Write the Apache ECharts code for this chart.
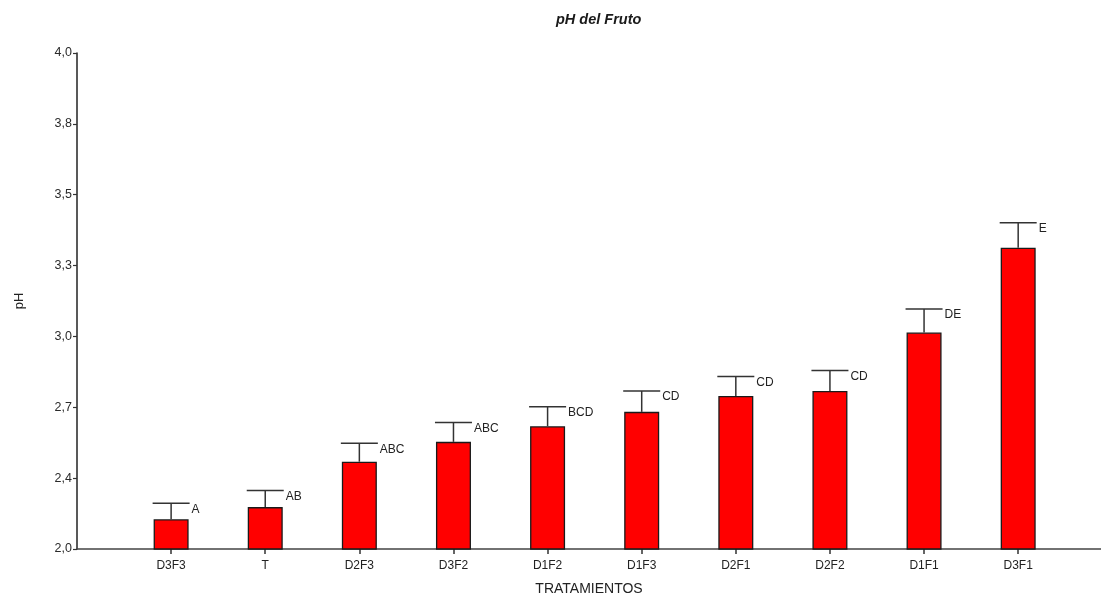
<!DOCTYPE html>
<html>
<head>
<meta charset="utf-8">
<title>pH del Fruto</title>
<script src="https://cdn.jsdelivr.net/npm/echarts@6/dist/echarts.min.js"></script>
<style>
  html, body { margin: 0; padding: 0; background: #ffffff; overflow: hidden; }
  #chart { width: 1101px; height: 601px; }
</style>
</head>
<body>
<div id="chart"></div>
<script>
// Treatments, ordered by mean fruit pH
const categories = ['D3F3', 'T', 'D2F3', 'D3F2', 'D1F2', 'D1F3', 'D2F1', 'D2F2', 'D1F1', 'D3F1'];
// Mean pH per treatment
const means = [2.120, 2.169, 2.352, 2.432, 2.495, 2.553, 2.617, 2.637, 2.873, 3.215];
// Upper error (standard error) per treatment
const errors = [0.064, 0.067, 0.074, 0.078, 0.079, 0.084, 0.079, 0.083, 0.095, 0.101];
// Letters of the means comparison test
const letters = ['A', 'AB', 'ABC', 'ABC', 'BCD', 'CD', 'CD', 'CD', 'DE', 'E'];
// Y axis tick positions and their printed labels
const yTickValues = [2, 2 + 2 / 7, 2 + 4 / 7, 2 + 6 / 7, 2 + 8 / 7, 2 + 10 / 7, 2 + 12 / 7, 4];
const yTickLabels = ['2,0', '2,4', '2,7', '3,0', '3,3', '3,5', '3,8', '4,0'];

const catIdx = categories.map((_, i) => i);
const FONT = 'Arial, "Liberation Sans", sans-serif';
const BAR_W = 35;

const chart = echarts.init(document.getElementById('chart'), null, { renderer: 'canvas', width: 1101, height: 601 });

chart.setOption({
  backgroundColor: '#ffffff',
  animation: false,
  title: {
    text: 'pH del Fruto',
    left: 551,
    top: 7,
    textStyle: { fontFamily: FONT, fontSize: 14.5, fontWeight: 'bold', fontStyle: 'italic', color: '#1a1a1a' }
  },
  grid: { left: 77, right: 0, top: 53, bottom: 48, containLabel: false },
  xAxis: {
    type: 'value',
    min: -1,
    max: 9.88,
    name: 'TRATAMIENTOS',
    nameLocation: 'middle',
    nameGap: 33,
    nameTextStyle: { fontFamily: FONT, fontSize: 14, color: '#222' },
    axisLine: { show: true, onZero: false, lineStyle: { color: '#444', width: 1.5 } },
    axisTick: { show: true, customValues: catIdx, length: 5, lineStyle: { color: '#333', width: 1.5 } },
    axisLabel: {
      customValues: catIdx,
      formatter: v => categories[Math.round(v)] || '',
      fontFamily: FONT, fontSize: 12, color: '#222', margin: 11
    },
    splitLine: { show: false }
  },
  yAxis: {
    type: 'value',
    min: 2,
    max: 4,
    name: 'pH',
    nameLocation: 'middle',
    nameGap: 51,
    nameRotate: 90,
    nameTextStyle: { fontFamily: FONT, fontSize: 13, color: '#222' },
    axisLine: { show: true, onZero: false, lineStyle: { color: '#222', width: 1.5 } },
    axisTick: { show: true, customValues: yTickValues, length: 4, lineStyle: { color: '#333', width: 1.2 } },
    axisLabel: {
      customValues: yTickValues,
      formatter: v => {
        const i = yTickValues.findIndex(t => Math.abs(t - v) < 1e-6);
        return i >= 0 ? yTickLabels[i] : '';
      },
      fontFamily: FONT, fontSize: 12.5, color: '#2a2a2a', margin: 5
    },
    splitLine: { show: false }
  },
  series: [
    {
      type: 'bar',
      data: means.map((m, i) => [i, m]),
      barWidth: BAR_W,
      itemStyle: { color: '#ff0000', borderColor: '#1a1a1a', borderWidth: 1.3 }
    },
    {
      type: 'custom',
      data: means.map((m, i) => [i, m, m + errors[i], letters[i]]),
      z: 5,
      renderItem: (params, api) => {
        const x = api.value(0);
        const top = api.coord([x, api.value(1)]);
        const cap = api.coord([x, api.value(2)]);
        const half = BAR_W / 2 + 1;
        const stroke = { stroke: '#333', lineWidth: 1.5 };
        return {
          type: 'group',
          children: [
            { type: 'line', shape: { x1: top[0], y1: top[1], x2: cap[0], y2: cap[1] }, style: stroke },
            { type: 'line', shape: { x1: cap[0] - half, y1: cap[1], x2: cap[0] + half, y2: cap[1] }, style: stroke },
            {
              type: 'text',
              x: cap[0] + half + 2,
              y: cap[1] + 6,
              style: {
                text: api.value(3),
                fill: '#222',
                font: '12px ' + FONT,
                align: 'left',
                verticalAlign: 'middle'
              }
            }
          ]
        };
      }
    }
  ]
});
</script>
</body>
</html>
